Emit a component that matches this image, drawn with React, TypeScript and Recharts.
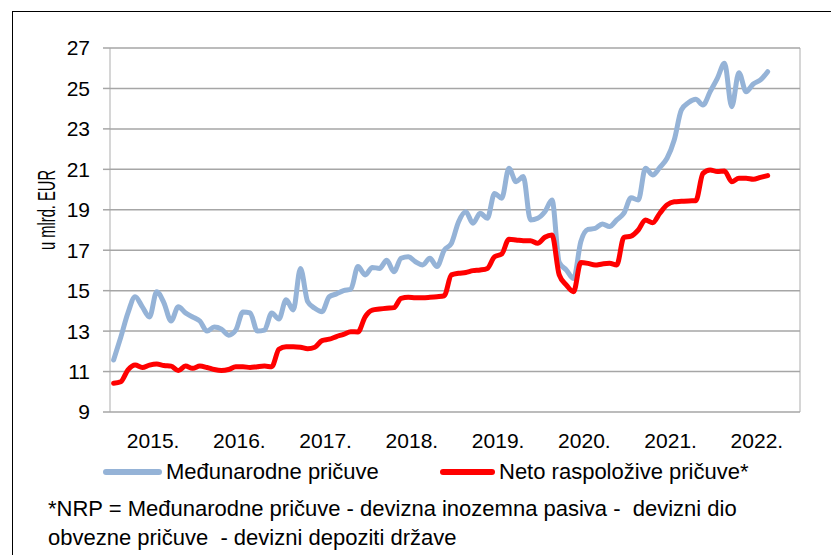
import React from 'react';
import { LineChart, Line, XAxis, YAxis, CartesianGrid } from 'recharts';

/* ---------------------------------------
   DATA (monthly, Jan 2015 - Aug 2022)
---------------------------------------- */
const years = ['2015.', '2016.', '2017.', '2018.', '2019.', '2020.', '2021.', '2022.'];
const yTicks = [9, 11, 13, 15, 17, 19, 21, 23, 25, 27];

// Međunarodne pričuve (mlrd. EUR)
const medunarodne = [
  11.57, 12.7, 13.9, 14.7, 14.2, 13.7, 14.95, 14.4, 13.5, 14.2, 13.9, 13.7,
  13.5, 13.0, 13.2, 13.1, 12.8, 13.05, 13.95, 13.9, 13.0, 13.05, 13.9, 13.6,
  14.55, 14.05, 16.1, 14.46, 14.13, 13.96, 14.7, 14.84, 15.0, 15.07, 16.19, 15.78,
  16.15, 16.1, 16.5, 15.94, 16.6, 16.68, 16.43, 16.27, 16.6, 16.19, 17.0, 17.34,
  18.41, 18.9, 18.33, 18.83, 18.58, 19.81, 19.57, 21.05, 20.39, 20.64, 18.5, 18.58,
  18.9, 19.48, 16.4, 16.02, 15.6, 17.42, 18.03, 18.08, 18.3, 18.17, 18.5, 18.83,
  19.6, 19.48, 21.05, 20.72, 21.1, 21.55, 22.45, 23.94, 24.3, 24.46, 24.18, 24.84,
  25.5, 26.24, 24.1, 25.78, 24.84, 25.22, 25.42, 25.83,
];

// Neto raspoložive pričuve (mlrd. EUR)
const netoRaspolozive = [
  10.42, 10.5, 11.08, 11.32, 11.2, 11.32, 11.37, 11.3, 11.27, 11.05, 11.27, 11.16,
  11.27, 11.2, 11.1, 11.05, 11.1, 11.24, 11.24, 11.2, 11.24, 11.27, 11.24, 12.1,
  12.23, 12.23, 12.2, 12.13, 12.2, 12.53, 12.6, 12.73, 12.84, 12.97, 12.96, 13.71,
  14.04, 14.09, 14.13, 14.16, 14.62, 14.67, 14.65, 14.65, 14.67, 14.7, 14.75, 15.78,
  15.86, 15.9, 15.99, 16.02, 16.1, 16.68, 16.81, 17.54, 17.51, 17.47, 17.47, 17.34,
  17.64, 17.75, 15.78, 15.28, 14.95, 16.39, 16.35, 16.27, 16.32, 16.35, 16.27, 17.64,
  17.7, 18.0, 18.5, 18.36, 18.83, 19.24, 19.4, 19.42, 19.44, 19.45, 20.8, 20.97,
  20.89, 20.92, 20.39, 20.56, 20.56, 20.51, 20.6, 20.69,
];

const data = medunarodne.map((v, i) => ({
  t: i + 0.5,
  mp: v,
  nrp: netoRaspolozive[i],
}));

const yearBounds = Array.from({ length: years.length + 1 }, (_, i) => i * 12);
const yearMids = years.map((_, i) => i * 12 + 6);

const FONT = "'Liberation Sans', Arial, sans-serif";
const BLUE = '#95B3D7';
const RED = '#FF0000';

export default function App() {
  return (
    <div
      style={{
        position: 'absolute',
        left: 0,
        top: 0,
        width: 831,
        height: 555,
        background: '#fff',
        overflow: 'hidden',
        fontFamily: FONT,
      }}
    >
      {/* outer frame */}
      <div
        style={{
          position: 'absolute',
          left: 12,
          top: 11,
          width: 840,
          height: 560,
          borderTop: '1px solid #000',
          borderLeft: '1px solid #000',
        }}
      />

      <div style={{ position: 'absolute', left: 0, top: 0 }}>
        <LineChart
          width={831}
          height={555}
          data={data}
          margin={{ top: 48, right: 31, bottom: 108, left: 0 }}
        >
          <CartesianGrid xAxisId="grid" horizontal={false} stroke="#C8C8C8" strokeWidth={1.5} />
          <CartesianGrid xAxisId="grid" vertical={false} stroke="#A6A6A6" strokeWidth={1.5} />

          {/* year boundaries */}
          <XAxis
            xAxisId="grid"
            dataKey="t"
            type="number"
            domain={[0, 96]}
            ticks={yearBounds}
            tick={false}
            tickSize={8}
            tickLine={{ stroke: '#C8C8C8', strokeWidth: 1.5 }}
            axisLine={false}
            height={0}
          />
          {/* year labels */}
          <XAxis
            xAxisId="lab"
            dataKey="t"
            type="number"
            domain={[0, 96]}
            ticks={yearMids}
            tickFormatter={(v: number) => years[Math.round((v - 6) / 12)]}
            tick={{ fill: '#000', fontSize: 21, fontFamily: FONT }}
            tickLine={false}
            tickSize={0}
            tickMargin={21}
            axisLine={false}
            height={35}
            interval={0}
          />
          <YAxis
            domain={[9, 27]}
            ticks={yTicks}
            width={110}
            axisLine={false}
            tickSize={7}
            tickMargin={13}
            tickLine={{ stroke: '#A6A6A6', strokeWidth: 1.5 }}
            tick={{ fill: '#000', fontSize: 21, fontFamily: FONT }}
            interval={0}
          />

          <Line
            xAxisId="grid"
            type="monotone"
            dataKey="mp"
            name="Međunarodne pričuve"
            stroke={BLUE}
            strokeWidth={5}
            dot={false}
            strokeLinecap="round"
            strokeLinejoin="round"
            isAnimationActive={false}
          />
          <Line
            xAxisId="grid"
            type="monotone"
            dataKey="nrp"
            name="Neto raspoložive pričuve*"
            stroke={RED}
            strokeWidth={5}
            dot={false}
            strokeLinecap="round"
            strokeLinejoin="round"
            isAnimationActive={false}
          />
        </LineChart>
      </div>

      {/* Y axis title */}
      <svg
        width={831}
        height={555}
        style={{ position: 'absolute', left: 0, top: 0, pointerEvents: 'none' }}
      >
        <text
          transform="translate(55,210) rotate(-90)"
          textAnchor="middle"
          fontSize={23}
          fontFamily={FONT}
          fill="#000"
          textLength={80}
          lengthAdjust="spacingAndGlyphs"
        >
          u mlrd. EUR
        </text>
      </svg>

      {/* Legend */}
      <div style={{ position: 'absolute', left: 103, top: 469, width: 59, height: 6, borderRadius: 3, background: BLUE }} />
      <div style={{ position: 'absolute', left: 166, top: 461, fontSize: 22, lineHeight: '22px', color: '#000', whiteSpace: 'pre' }}>
        Međunarodne pričuve
      </div>
      <div style={{ position: 'absolute', left: 440, top: 469, width: 55, height: 6, borderRadius: 3, background: RED }} />
      <div style={{ position: 'absolute', left: 499, top: 461, fontSize: 22, lineHeight: '22px', color: '#000', whiteSpace: 'pre' }}>
        Neto raspoložive pričuve*
      </div>

      {/* Footnote */}
      <div style={{ position: 'absolute', left: 48, top: 495, fontSize: 22, lineHeight: '28.5px', color: '#000', whiteSpace: 'pre' }}>
        {'*NRP = Međunarodne pričuve - devizna inozemna pasiva -  devizni dio\nobvezne pričuve  - devizni depoziti države'}
      </div>
    </div>
  );
}
